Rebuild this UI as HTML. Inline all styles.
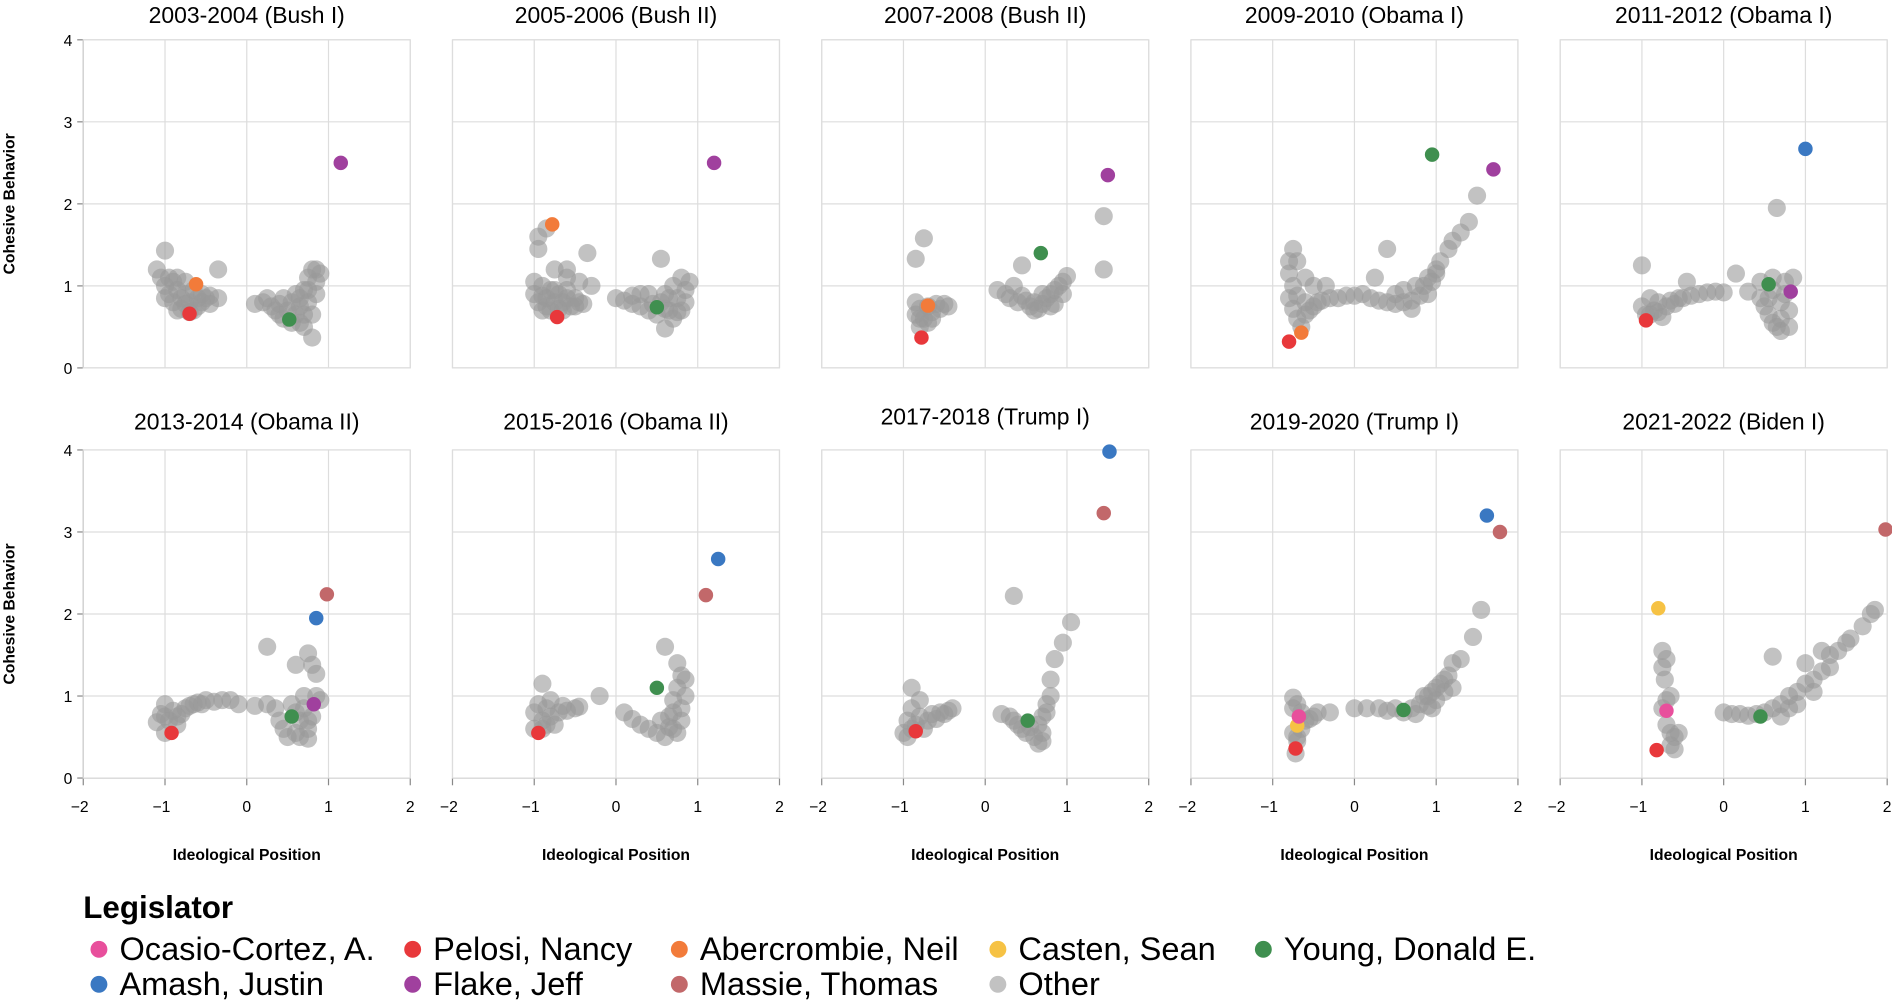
<!DOCTYPE html>
<html><head><meta charset="utf-8">
<style>
html,body{margin:0;padding:0;background:#fff;}
svg{display:block;font-family:"Liberation Sans",Arial,sans-serif;}
</style></head>
<body>
<svg id="chart" width="1892" height="1000" viewBox="0 0 1568 829" preserveAspectRatio="none"></svg>
<script>
// ---- data ----
const panelTitles = ["2003-2004 (Bush I)","2005-2006 (Bush II)","2007-2008 (Bush II)","2009-2010 (Obama I)","2011-2012 (Obama I)",
  "2013-2014 (Obama II)","2015-2016 (Obama II)","2017-2018 (Trump I)","2019-2020 (Trump I)","2021-2022 (Biden I)"];
const xTicks = [-2,-1,0,1,2];
const yTicks = [0,1,2,3,4];
const legendNames = ["Ocasio-Cortez, A.","Pelosi, Nancy","Abercrombie, Neil","Casten, Sean","Young, Donald E.","Amash, Justin","Flake, Jeff","Massie, Thomas","Other"];
const legendColors = ["#e84f9c","#e8383b","#f27b3a","#f6c244","#3f8f4f","#3a78c2","#a0409e","#c2686a","#c2c2c2"];

const other0 = [[-1.1,1.2],[-1.0,1.43],[-1.05,1.1],[-1.0,1.0],[-0.95,0.9],[-0.9,0.8],[-0.9,1.05],[-0.85,0.95],[-0.8,0.85],[-0.8,0.72],[-0.75,0.9],[-0.7,0.8],[-0.7,0.68],[-0.65,0.95],[-0.6,0.85],[-0.6,0.75],[-0.55,0.8],[-0.5,0.85],[-0.45,0.78],[-0.35,0.85],[-0.35,1.2],[-0.85,1.1],[-0.75,1.05],[-1.0,0.85],[-0.85,0.7],[-0.65,0.7],[-0.55,0.9],[-0.45,0.88],[-0.75,0.78],[-0.95,1.1],[0.1,0.78],[0.2,0.8],[0.3,0.75],[0.35,0.7],[0.4,0.65],[0.45,0.6],[0.5,0.7],[0.55,0.8],[0.6,0.65],[0.6,0.9],[0.65,0.55],[0.65,0.75],[0.7,0.95],[0.7,0.65],[0.75,1.1],[0.75,0.8],[0.8,1.2],[0.85,1.05],[0.85,0.9],[0.8,0.37],[0.9,1.15],[0.45,0.85],[0.25,0.85],[0.55,0.55],[0.7,0.5],[0.75,0.95],[0.8,0.65],[0.65,0.85],[0.85,1.2],[0.4,0.78]];
const other1 = [[-0.95,1.6],[-0.95,1.45],[-0.85,1.7],[-0.75,1.2],[-0.6,1.2],[-0.35,1.4],[-0.6,1.1],[-1.0,1.05],[-1.0,0.9],[-0.95,0.8],[-0.9,1.0],[-0.9,0.7],[-0.85,0.85],[-0.8,0.95],[-0.8,0.7],[-0.75,0.8],[-0.7,0.9],[-0.7,0.72],[-0.65,0.8],[-0.6,0.85],[-0.55,0.75],[-0.5,0.85],[-0.45,0.8],[-0.4,0.78],[-0.45,1.05],[-0.3,1.0],[-0.9,0.88],[-0.75,0.95],[-0.6,0.95],[-0.5,0.75],[-0.65,0.7],[-0.85,0.75],[0.0,0.85],[0.1,0.82],[0.2,0.78],[0.3,0.75],[0.4,0.7],[0.5,0.65],[0.55,0.8],[0.6,0.9],[0.65,0.7],[0.7,1.0],[0.7,0.6],[0.75,0.85],[0.8,1.1],[0.85,0.95],[0.9,1.05],[0.4,0.9],[0.55,1.33],[0.6,0.48],[0.3,0.9],[0.8,0.7],[0.45,0.78],[0.6,0.72],[0.75,0.68],[0.85,0.8],[0.65,0.85],[0.2,0.88]];
const other2 = [[-0.85,1.33],[-0.75,1.58],[-0.85,0.8],[-0.85,0.65],[-0.8,0.5],[-0.8,0.72],[-0.75,0.6],[-0.7,0.75],[-0.7,0.55],[-0.65,0.68],[-0.6,0.78],[-0.55,0.72],[-0.5,0.78],[-0.45,0.75],[-0.8,0.6],[-0.65,0.6],[0.15,0.95],[0.25,0.9],[0.3,0.85],[0.35,1.0],[0.45,1.25],[0.4,0.8],[0.5,0.82],[0.55,0.75],[0.6,0.8],[0.65,0.72],[0.7,0.78],[0.75,0.85],[0.8,0.9],[0.85,0.95],[0.9,1.0],[0.95,1.05],[1.0,1.12],[0.85,0.78],[0.7,0.9],[0.45,0.88],[0.6,0.7],[0.8,0.75],[0.95,0.9],[1.45,1.85],[1.45,1.2]];
const other3 = [[-0.8,1.3],[-0.75,1.45],[-0.8,1.15],[-0.75,1.0],[-0.8,0.85],[-0.75,0.72],[-0.7,0.6],[-0.7,0.88],[-0.65,0.5],[-0.6,0.65],[-0.6,1.1],[-0.55,0.7],[-0.5,0.75],[-0.45,0.8],[-0.4,0.82],[-0.3,0.85],[-0.2,0.85],[-0.1,0.88],[0.0,0.88],[-0.5,1.0],[-0.35,1.0],[-0.7,1.3],[-0.6,0.8],[0.1,0.9],[0.2,0.85],[0.3,0.82],[0.4,0.8],[0.5,0.78],[0.6,0.8],[0.7,0.82],[0.8,0.88],[0.85,1.0],[0.9,0.9],[0.95,1.05],[1.0,1.15],[1.0,1.2],[1.05,1.3],[1.15,1.45],[1.2,1.55],[1.3,1.65],[1.4,1.78],[1.5,2.1],[0.4,1.45],[0.25,1.1],[0.6,0.95],[0.75,1.0],[0.5,0.9],[0.9,1.1],[0.7,0.72]];
const other4 = [[-1.0,1.25],[-1.0,0.75],[-0.95,0.65],[-0.9,0.85],[-0.85,0.7],[-0.8,0.8],[-0.75,0.62],[-0.7,0.75],[-0.65,0.82],[-0.6,0.78],[-0.55,0.85],[-0.5,0.85],[-0.45,1.05],[-0.4,0.88],[-0.3,0.9],[-0.2,0.92],[-0.1,0.93],[0.0,0.92],[-0.9,0.65],[-0.8,0.68],[0.15,1.15],[0.3,0.93],[0.45,1.05],[0.45,0.85],[0.5,0.75],[0.55,0.65],[0.6,0.55],[0.65,0.5],[0.7,0.6],[0.7,0.8],[0.75,1.05],[0.8,0.7],[0.8,0.5],[0.65,1.95],[0.6,1.1],[0.85,1.1],[0.6,0.95],[0.75,0.9],[0.55,0.85],[0.7,0.45]];
const other5 = [[-1.1,0.68],[-1.05,0.78],[-1.0,0.9],[-1.0,0.55],[-0.95,0.7],[-0.9,0.82],[-0.85,0.65],[-0.8,0.78],[-0.75,0.85],[-0.7,0.88],[-0.65,0.9],[-0.6,0.92],[-0.55,0.9],[-0.5,0.95],[-0.4,0.93],[-0.3,0.95],[-0.2,0.95],[-0.1,0.9],[-1.0,0.75],[-0.85,0.75],[0.1,0.88],[0.25,0.9],[0.25,1.6],[0.35,0.85],[0.4,0.7],[0.45,0.6],[0.5,0.5],[0.55,0.9],[0.6,0.55],[0.65,0.7],[0.7,0.85],[0.7,1.0],[0.75,0.6],[0.8,0.75],[0.85,1.0],[0.6,1.38],[0.75,1.52],[0.8,1.38],[0.85,1.27],[0.75,0.48],[0.9,0.95],[0.6,0.8],[0.75,0.7],[0.65,0.5]];
const other6 = [[-0.9,1.15],[-1.0,0.8],[-1.0,0.6],[-0.95,0.9],[-0.9,0.7],[-0.85,0.85],[-0.8,0.75],[-0.8,0.95],[-0.75,0.65],[-0.7,0.8],[-0.65,0.88],[-0.6,0.82],[-0.5,0.85],[-0.45,0.87],[-0.2,1.0],[-0.9,0.6],[-0.85,0.65],[0.1,0.8],[0.2,0.72],[0.3,0.65],[0.4,0.6],[0.5,0.55],[0.55,0.7],[0.6,0.5],[0.65,0.62],[0.7,0.8],[0.7,0.95],[0.75,1.1],[0.8,1.25],[0.85,1.2],[0.8,0.7],[0.75,0.55],[0.6,1.6],[0.75,1.4],[0.85,1.0],[0.7,0.6],[0.8,0.85],[0.65,0.75]];
const other7 = [[-1.0,0.55],[-0.95,0.7],[-0.9,0.85],[-0.9,1.1],[-0.85,0.65],[-0.8,0.95],[-0.8,0.75],[-0.75,0.6],[-0.7,0.7],[-0.65,0.78],[-0.6,0.72],[-0.55,0.8],[-0.5,0.78],[-0.45,0.82],[-0.4,0.85],[-0.9,0.6],[-0.95,0.5],[0.2,0.78],[0.3,0.75],[0.35,0.7],[0.4,0.65],[0.45,0.6],[0.5,0.55],[0.6,0.5],[0.65,0.42],[0.65,0.65],[0.7,0.75],[0.7,0.55],[0.75,0.9],[0.8,1.2],[0.8,1.0],[0.85,1.45],[0.95,1.65],[1.05,1.9],[0.35,2.22],[0.75,0.8],[0.55,0.62],[0.7,0.45]];
const other8 = [[-0.75,0.98],[-0.75,0.85],[-0.75,0.55],[-0.7,0.45],[-0.7,0.9],[-0.65,0.8],[-0.65,0.6],[-0.6,0.7],[-0.55,0.72],[-0.5,0.75],[-0.45,0.8],[-0.3,0.8],[-0.72,0.3],[-0.7,0.5],[0.0,0.85],[0.15,0.85],[0.3,0.85],[0.4,0.82],[0.5,0.85],[0.6,0.8],[0.7,0.85],[0.8,0.9],[0.85,1.0],[0.9,0.88],[0.95,1.05],[1.0,0.95],[1.05,1.15],[1.1,1.05],[1.15,1.25],[1.2,1.4],[1.2,1.1],[1.3,1.45],[1.45,1.72],[1.55,2.05],[0.75,0.78],[0.9,1.0],[1.0,1.1],[1.1,1.2],[0.95,0.85]];
const other9 = [[-0.75,1.55],[-0.7,1.45],[-0.75,1.35],[-0.72,1.2],[-0.7,0.95],[-0.65,1.0],[-0.7,0.65],[-0.65,0.55],[-0.6,0.5],[-0.65,0.4],[-0.6,0.35],[-0.55,0.55],[-0.75,0.85],[0.0,0.8],[0.1,0.78],[0.2,0.78],[0.3,0.76],[0.4,0.78],[0.5,0.8],[0.6,0.85],[0.7,0.9],[0.8,1.0],[0.9,1.05],[1.0,1.15],[1.1,1.2],[1.2,1.3],[1.3,1.5],[1.4,1.55],[1.5,1.65],[1.55,1.7],[1.7,1.85],[1.8,2.0],[1.85,2.05],[0.6,1.48],[1.0,1.4],[1.2,1.55],[0.7,0.75],[0.9,0.9],[1.1,1.05],[0.8,0.85],[1.3,1.35]];
const others = [other0,other1,other2,other3,other4,other5,other6,other7,other8,other9];

// highlighted legislators: [panel, legendIndex, x, y]
const highlights = [
 [0,2,-0.62,1.02],[0,1,-0.7,0.66],[0,4,0.52,0.59],[0,6,1.15,2.5],
 [1,2,-0.78,1.75],[1,1,-0.72,0.62],[1,4,0.5,0.74],[1,6,1.2,2.5],
 [2,2,-0.7,0.76],[2,1,-0.78,0.37],[2,4,0.68,1.4],[2,6,1.5,2.35],
 [3,1,-0.8,0.32],[3,2,-0.65,0.43],[3,4,0.95,2.6],[3,6,1.7,2.42],
 [4,1,-0.95,0.58],[4,4,0.55,1.02],[4,6,0.82,0.93],[4,5,1.0,2.67],
 [5,1,-0.92,0.55],[5,4,0.55,0.75],[5,6,0.82,0.9],[5,5,0.85,1.95],[5,7,0.98,2.24],
 [6,1,-0.95,0.55],[6,4,0.5,1.1],[6,7,1.1,2.23],[6,5,1.25,2.67],
 [7,1,-0.85,0.57],[7,4,0.52,0.7],[7,7,1.45,3.23],[7,5,1.52,3.98],
 [8,1,-0.72,0.36],[8,3,-0.7,0.64],[8,0,-0.68,0.75],[8,4,0.6,0.83],[8,5,1.62,3.2],[8,7,1.78,3.0],
 [9,1,-0.82,0.34],[9,0,-0.7,0.82],[9,3,-0.8,2.07],[9,4,0.45,0.75],[9,7,1.98,3.03]
];

// ---- layout ----
const NS="http://www.w3.org/2000/svg";
const svg=document.getElementById('chart');
const PW=271, PH=272, colX=[69,375,681,987,1293], rowY=[33,373];
function mk(tag,attrs,parent){const e=document.createElementNS(NS,tag);for(const k in attrs)e.setAttribute(k,attrs[k]);(parent||svg).appendChild(e);return e;}
function xs(p,v){return colX[p%5]+(v+2)/4*PW;}
function ys(p,v){return rowY[Math.floor(p/5)]+PH-(v/4)*PH;}

for(let p=0;p<10;p++){
  const g=mk('g',{});
  
  
  const x0=colX[p%5], y0=rowY[Math.floor(p/5)];
  xTicks.forEach(t=>{const l=mk('line',{x1:xs(p,t),x2:xs(p,t),y1:y0,y2:y0+PH,stroke:'#ddd','stroke-width':1},g);
    });
  yTicks.forEach(t=>{const l=mk('line',{x1:x0,x2:x0+PW,y1:ys(p,t),y2:ys(p,t),stroke:'#ddd','stroke-width':1},g);
    });
  const title=mk('text',{x:x0+PW/2,y:(p<5?19:(p===7?352:356)),'text-anchor':'middle','font-size':19,fill:'#000'},g);
  title.textContent=panelTitles[p];
  
  if(p%5===0){
    const ax=mk('line',{x1:x0,x2:x0,y1:y0,y2:y0+PH,stroke:'#888','stroke-width':1},g);
    
    yTicks.forEach(t=>{mk('line',{x1:x0-5,x2:x0,y1:ys(p,t),y2:ys(p,t),stroke:'#888'},g);
      const tl=mk('text',{x:x0-9,y:ys(p,t)+5,'text-anchor':'end','font-size':13,fill:'#000'},g);tl.textContent=t;
      });
    const yt=mk('text',{x:0,y:0,'text-anchor':'middle','font-size':13,'font-weight':'bold',fill:'#000',transform:`translate(12,${y0+PH/2}) rotate(-90)`},g);
    yt.textContent='Cohesive Behavior';
    
  }
  if(p>=5){
    const ax=mk('line',{x1:x0,x2:x0+PW,y1:y0+PH,y2:y0+PH,stroke:'#888','stroke-width':1},g);
    
    xTicks.forEach(t=>{mk('line',{x1:xs(p,t),x2:xs(p,t),y1:y0+PH,y2:y0+PH+6,stroke:'#888'},g);
      const tl=mk('text',{x:xs(p,t)+(t<0?-3:0),y:y0+PH+28,'text-anchor':'middle','font-size':13,fill:'#000'},g);tl.textContent=(t<0?'\u2212'+(-t):t);
      });
    const xt=mk('text',{x:x0+PW/2,y:y0+PH+68,'text-anchor':'middle','font-size':13,'font-weight':'bold',fill:'#000'},g);
    xt.textContent='Ideological Position';
    
  }
  const fr=mk('rect',{x:x0,y:y0,width:PW,height:PH,fill:'none',stroke:'#ddd'},g);
  
  others[p].forEach(d=>{
    const c=mk('circle',{cx:xs(p,d[0]),cy:ys(p,d[1]),r:7.5,fill:'#9a9a9a','fill-opacity':0.6},g);
    
    
  });
  highlights.filter(h=>h[0]===p).forEach(h=>{
    const c=mk('circle',{cx:xs(p,h[2]),cy:ys(p,h[3]),r:6,fill:legendColors[h[1]]},g);
    
    
  });
}

// legend
const lg=mk('g',{});

const lt=mk('text',{x:69,y:761,'font-size':26,'font-weight':'bold',fill:'#000'},lg);
lt.textContent='Legislator';

const legCols=[75,335,556,820,1040];
legendNames.forEach((n,i)=>{
  const col=i%5,row=Math.floor(i/5);
  const cx=legCols[col],cy=787+row*29;
  const e=mk('g',{},lg);
  
  
  mk('circle',{cx:cx+7,cy:cy,r:7,fill:legendColors[i]},e);
  const t=mk('text',{x:cx+24,y:cy+9,'font-size':27,fill:'#000'},e);
  t.textContent=n;
});
</script>
</body></html>
